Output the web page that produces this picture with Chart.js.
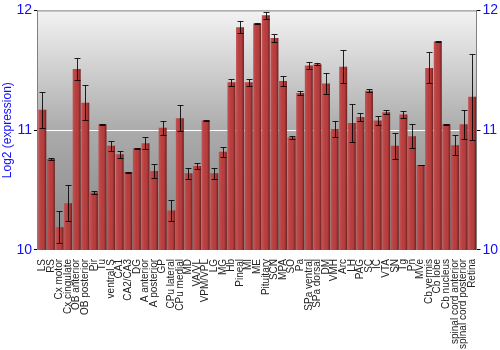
<!DOCTYPE html>
<html lang="en">
<head>
  <meta charset="UTF-8">
  <title>Log2 expression by region</title>
  <script src="https://cdn.jsdelivr.net/npm/chart.js"></script>
  <style>
    body {
      margin: 0;
      background: #fff;
    }
    #wrap {
      width: 500px;
      height: 350px;
    }
  </style>
</head>
<body>
  <div id="wrap"><canvas id="chart"></canvas></div>

  <script>
    // brain regions, values
    const regions = [
      'LS', 'RS', 'Cx motor', 'Cx cingulate', 'OB anterior', 'OB posterior', 'Pir', 'Tu',
      'ventral S', 'CA1', 'CA2/CA3', 'DG', 'A anterior', 'A posterior', 'GP', 'CPu lateral',
      'CPu medial', 'MD', 'VA/VL', 'VPM/VPL', 'LG', 'MG', 'Hb', 'Pineal', 'MI', 'ME',
      'Pituitary', 'SCN', 'MPA', 'SO', 'Pa', 'SPa ventral', 'SPa dorsal', 'DM', 'VMH', 'Arc',
      'LH', 'PAG', 'SC', 'IC', 'VTA', 'SN', 'Tg', 'Pn', 'MVe', 'Cb vermis', 'Cb lobe',
      'Cb nucleus', 'spinal cord anterior', 'spinal cord posterior', 'Retina'
    ];

    const expression = [
      11.17, 10.76, 10.19, 10.39, 11.51, 11.23, 10.48, 11.05,
      10.87, 10.80, 10.65, 10.85, 10.89, 10.66, 11.02, 10.33,
      11.10, 10.64, 10.70, 11.08, 10.64, 10.82, 11.40, 11.86, 11.40, 11.89,
      11.96, 11.77, 11.41, 10.94, 11.31, 11.54, 11.55, 11.39, 11.01, 11.53,
      11.06, 11.11, 11.33, 11.08, 11.15, 10.87, 11.13, 10.95, 10.71, 11.52, 11.74,
      11.05, 10.875, 11.05, 11.28
    ];

    // half-length of the error bars
    const errors = [
      0.15, 0.01, 0.135, 0.15, 0.09, 0.145, 0.01, 0.005,
      0.04, 0.03, 0.005, 0.005, 0.05, 0.057, 0.06, 0.09,
      0.11, 0.045, 0.025, 0.005, 0.047, 0.04, 0.03, 0.05, 0.03, 0.005,
      0.03, 0.03, 0.04, 0.015, 0.02, 0.03, 0.01, 0.085, 0.065, 0.14,
      0.155, 0.033, 0.01, 0.035, 0.015, 0.11, 0.03, 0.1, 0.003, 0.13, 0.003,
      0.005, 0.083, 0.12, 0.36
    ];

    const yTicks = [10, 11, 12];

    const blue = '#1010ff';

    // gray gradient behind the bars plus a frame
    const backdrop = {
      id: 'backdrop',
      beforeDraw(chart) {
        const { ctx, chartArea: a } = chart;
        const g = ctx.createLinearGradient(0, a.top, 0, a.bottom);
        g.addColorStop(0, '#f3f3f3');
        g.addColorStop(0.5, '#ababab');
        g.addColorStop(1, '#868686');
        ctx.save();
        ctx.fillStyle = g;
        ctx.fillRect(a.left, a.top, a.right - a.left, a.bottom - a.top);
        ctx.restore();
      },
      afterDraw(chart) {
        const { ctx, chartArea: a } = chart;
        ctx.save();
        ctx.strokeStyle = '#808080';
        ctx.lineWidth = 1;
        ctx.beginPath();
        ctx.moveTo(a.left, a.top + 0.5);
        ctx.lineTo(a.right, a.top + 0.5);
        ctx.stroke();
        ctx.restore();
      }
    };

    // shade each bar (light left, dark right) and draw error bars
    const barShade = {
      id: 'barShade',
      afterDatasetsDraw(chart) {
        const { ctx, chartArea: a } = chart;
        const y = chart.scales.y;
        const meta = chart.getDatasetMeta(0);
        ctx.save();
        ctx.beginPath();
        ctx.rect(a.left, a.top, a.right - a.left, a.bottom - a.top);
        ctx.clip();
        meta.data.forEach((bar, i) => {
          const left = bar.x - bar.width / 2;
          const g = ctx.createLinearGradient(left, 0, left + bar.width, 0);
          g.addColorStop(0, 'rgba(255,255,255,0.12)');
          g.addColorStop(0.45, 'rgba(255,255,255,0)');
          g.addColorStop(0.75, 'rgba(0,0,0,0.08)');
          g.addColorStop(1, 'rgba(0,0,0,0.45)');
          ctx.fillStyle = g;
          ctx.fillRect(left, bar.y, bar.width, bar.base - bar.y);
        });
        ctx.strokeStyle = 'rgba(0,0,0,0.85)';
        ctx.lineWidth = 1;
        meta.data.forEach((bar, i) => {
          const yHi = Math.round(y.getPixelForValue(expression[i] + errors[i])) + 0.5;
          const yLo = Math.round(y.getPixelForValue(expression[i] - errors[i])) + 0.5;
          const x = Math.round(bar.x) + 0.5;
          ctx.beginPath();
          ctx.moveTo(x, yHi);
          ctx.lineTo(x, yLo);
          ctx.moveTo(x - 3, yHi);
          ctx.lineTo(x + 3, yHi);
          ctx.moveTo(x - 3, yLo);
          ctx.lineTo(x + 3, yLo);
          ctx.stroke();
        });
        ctx.restore();
      }
    };

    new Chart(document.getElementById('chart'), {
      type: 'bar',
      data: {
        labels: regions,
        datasets: [{
          data: expression,
          backgroundColor: '#b83c3c',
          borderWidth: 0,
          barPercentage: 0.92,
          categoryPercentage: 1
        }]
      },
      options: {
        responsive: true,
        maintainAspectRatio: false,
        animation: false,
        layout: { padding: { top: 10, right: 0, left: 0, bottom: 0 } },
        plugins: {
          legend: { display: false },
          tooltip: { enabled: false }
        },
        scales: {
          x: {
            grid: { display: false },
            border: { display: false },
            ticks: {
              autoSkip: false,
              minRotation: 90,
              maxRotation: 90,
              padding: 1,
              color: '#222',
              font: { family: 'Liberation Sans', size: 10 }
            }
          },
          y: {
            min: 10,
            max: 12,
            afterBuildTicks(axis) { axis.ticks = yTicks.map(v => ({ value: v })); },
            border: { color: '#808080' },
            grid: {
              color: ctx => ctx.tick && ctx.tick.value === 11 ? '#ffffff' : 'rgba(0,0,0,0)',
              tickColor: '#000',
              tickLength: 4,
              z: 0
            },
            ticks: {
              color: blue,
              padding: 2,
              font: { family: 'Liberation Sans', size: 14 }
            },
            title: {
              display: true,
              text: 'Log2 (expression)',
              color: blue,
              padding: 0,
              font: { family: 'Liberation Sans', size: 12 }
            }
          },
          y2: {
            position: 'right',
            min: 10,
            max: 12,
            afterBuildTicks(axis) { axis.ticks = yTicks.map(v => ({ value: v })); },
            border: { color: '#808080' },
            grid: {
              drawOnChartArea: false,
              tickColor: '#000',
              tickLength: 4
            },
            ticks: {
              color: blue,
              padding: 2,
              font: { family: 'Liberation Sans', size: 14 }
            }
          }
        }
      },
      plugins: [backdrop, barShade]
    });
  </script>
</body>
</html>
